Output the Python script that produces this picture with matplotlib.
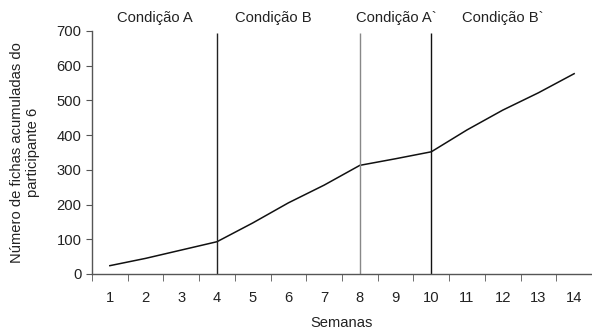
import matplotlib.pyplot as plt

plt.rcParams['font.family'] = ['Liberation Sans', 'DejaVu Sans']

semanas = [1, 2, 3, 4, 5, 6, 7, 8, 9, 10, 11, 12, 13, 14]
fichas = [24, 45, 69, 93, 147, 205, 256, 313, 332, 352, 415, 472, 522, 577]
mudancas = [4, 8, 10]
cores_mudanca = ['#222222', '#888888', '#111111']
condicoes = ['Condição A', 'Condição B', 'Condição A`', 'Condição B`']
pos_condicoes = [2.25, 5.58, 9.02, 12.0]

fs = 10.6

fig = plt.figure(figsize=(5.92, 3.30), dpi=100)
ax = fig.add_axes([0.1554, 0.1697, 0.8446, 0.7364])

ax.plot(semanas, fichas, color='#111111', linewidth=1.1)
for x, c in zip(mudancas, cores_mudanca):
    ax.vlines(x, 0, 695, color=c, linewidth=1.0)

for nome, x in zip(condicoes, pos_condicoes):
    ax.text(x, 738, nome, ha='center', va='center', fontsize=fs, color='#222222', clip_on=False)

ax.set_xlim(0.5, 14.5)
ax.set_ylim(0, 700)
ax.set_yticks(range(0, 701, 100))
ax.set_xticks(semanas)
ax.set_xticks([s + 0.5 for s in [0] + semanas], minor=True)
ax.tick_params(axis='x', which='major', length=0, pad=12, labelsize=fs, labelcolor='#222222')
ax.tick_params(axis='x', which='minor', length=5, color='#555555', direction='out')
ax.tick_params(axis='y', length=4, color='#555555', labelsize=fs, labelcolor='#222222')

for s in ['top', 'right']:
    ax.spines[s].set_visible(False)
for s in ['left', 'bottom']:
    ax.spines[s].set_color('#555555')
    ax.spines[s].set_linewidth(1.0)

ax.set_xlabel('Semanas', fontsize=fs, color='#222222', labelpad=8)
ax.set_ylabel('Número de fichas acumuladas do\nparticipante 6', fontsize=fs, color='#222222', labelpad=12)

fig.savefig('out.png', dpi=100)
